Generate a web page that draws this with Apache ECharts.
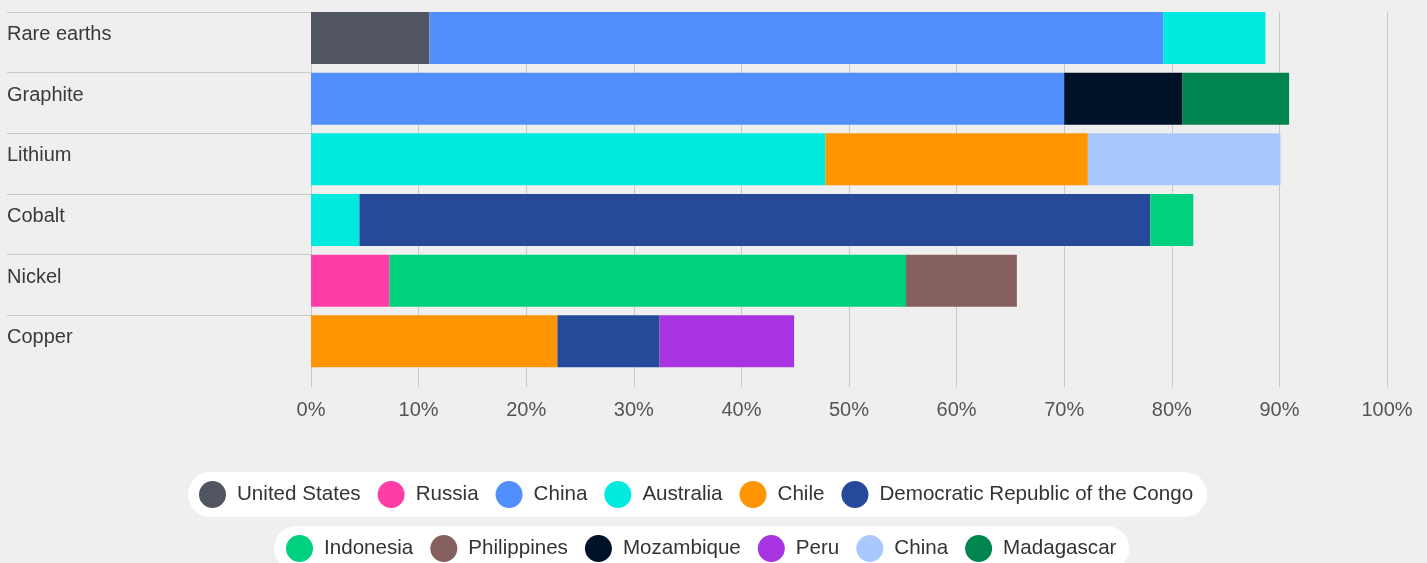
<!DOCTYPE html>
<html>
<head>
<meta charset="utf-8">
<script src="https://cdn.jsdelivr.net/npm/echarts@6/dist/echarts.min.js"></script>
<style>
html,body{margin:0;padding:0;background:#efefef;}
#chart{width:1427px;height:563px;}
</style>
</head>
<body>
<div id="chart"></div>
<script>
// Categories (top to bottom)
const categories = ['Rare earths', 'Graphite', 'Lithium', 'Cobalt', 'Nickel', 'Copper'];
const xTicks = [0, 10, 20, 30, 40, 50, 60, 70, 80, 90, 100];

// Share of global production (%) by country, per mineral
const unitedStates = [11, null, null, null, null, null];
const russia       = [null, null, null, null, 7.3, null];
const china        = [68.2, 70, null, null, null, null];
const australia    = [9.5, null, 47.8, 4.5, null, null];
const chile        = [null, null, 24.4, null, null, 22.9];
const drc          = [null, null, null, 73.5, null, 9.5];
const indonesia    = [null, null, null, 4.0, 48.0, null];
const philippines  = [null, null, null, null, 10.3, null];
const mozambique   = [null, 11, null, null, null, null];
const peru         = [null, null, null, null, null, 12.5];
const chinaRefined = [null, null, 17.9, null, null, null];
const madagascar   = [null, 9.9, null, null, null, null];

const legendRow1 = ['United States', 'Russia', 'China', 'Australia', 'Chile', 'Democratic Republic of the Congo'];
const legendRow2 = ['Indonesia', 'Philippines', 'Mozambique', 'Peru', 'China', 'Madagascar'];

const seriesDefs = [
  ['United States', unitedStates, '#515561'],
  ['Russia', russia, '#ff3da6'],
  ['China', china, '#528ffe'],
  ['Australia', australia, '#00ebe0'],
  ['Chile', chile, '#ff9500'],
  ['Democratic Republic of the Congo', drc, '#264a9a'],
  ['Indonesia', indonesia, '#00d17e'],
  ['Philippines', philippines, '#85605e'],
  ['Mozambique', mozambique, '#001228'],
  ['Peru', peru, '#a734e0'],
  ['China', chinaRefined, '#a9c8fe'],
  ['Madagascar', madagascar, '#00854f']
];

const FONT = "'Liberation Sans', Arial, sans-serif";
const series = seriesDefs.map(([name, data, color]) => ({
  name, type: 'bar', stack: 'total', data,
  barWidth: 52, barGap: 0, barCategoryGap: 0,
  itemStyle: { color },
  xAxisIndex: 0, yAxisIndex: 0
}));
// spacer stack keeps bars aligned to the top of each row
series.push({
  name: '__spacer', type: 'bar', stack: 'spacer',
  data: categories.map(() => null),
  barWidth: 8.7, barGap: 0, barCategoryGap: 0, silent: true,
  xAxisIndex: 0, yAxisIndex: 0
});

const legendCommon = {
  orient: 'horizontal',
  icon: 'circle',
  itemWidth: 27, itemHeight: 27, itemGap: 17,
  backgroundColor: '#ffffff',
  borderRadius: 23,
  selectedMode: false,
  textStyle: { fontSize: 20.6, color: '#333333', fontFamily: FONT, padding: [0, 0, 0, 6] }
};

const chart = echarts.init(document.getElementById('chart'), null, { renderer: 'canvas' });
chart.setOption({
  backgroundColor: '#efefef',
  animation: false,
  grid: [
    { left: 311, right: 40, top: 12, height: 364 },
    { left: 7, width: 304, top: 12, height: 364 }
  ],
  xAxis: [
    {
      type: 'value', gridIndex: 0, min: 0, max: 100, interval: 10,
      axisLine: { show: false },
      axisTick: { show: true, length: 11, lineStyle: { color: '#c8c8c8' } },
      splitLine: { show: true, lineStyle: { color: '#c8c8c8', width: 1 } },
      axisLabel: { formatter: '{value}%', fontSize: 20, color: '#555555', fontFamily: FONT, margin: 24 }
    },
    { type: 'value', gridIndex: 1, show: false, min: 0, max: 1 }
  ],
  yAxis: [
    {
      type: 'category', gridIndex: 0, data: categories, inverse: true,
      axisLine: { show: false }, axisTick: { show: false }, splitLine: { show: false },
      axisLabel: {
        align: 'left', margin: 304, fontSize: 20, color: '#3a3a3a', fontFamily: FONT,
        verticalAlign: 'bottom', lineHeight: 16
      }
    },
    {
      type: 'category', gridIndex: 1, data: categories, inverse: true,
      axisLine: { show: false }, axisTick: { show: false }, axisLabel: { show: false },
      splitLine: { show: true, showMinLine: true, showMaxLine: false, lineStyle: { color: '#c8c8c8', width: 1 } }
    }
  ],
  legend: [
    Object.assign({}, legendCommon, {
      left: 188, top: 472, padding: [9, 14, 9, 11],
      data: legendRow1
    }),
    Object.assign({}, legendCommon, {
      left: 274, top: 526, padding: [9, 13, 9, 12],
      data: legendRow2.map((n, i) => i === 4 ? { name: n, itemStyle: { color: '#a9c8fe' } } : n)
    })
  ],
  series
});
</script>
</body>
</html>
